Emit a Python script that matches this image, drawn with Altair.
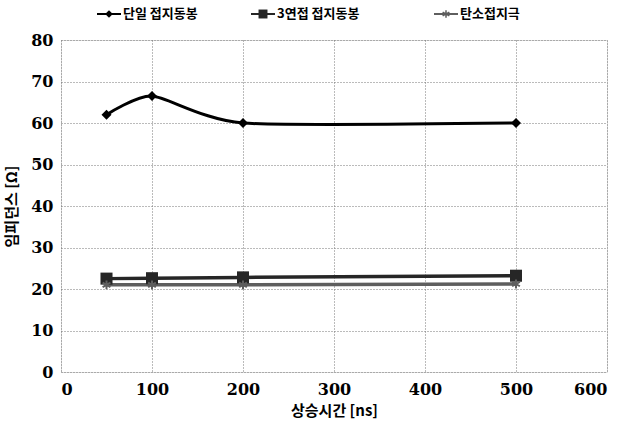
import altair as alt
import pandas as pd

# Rise time of the injected impulse [ns]
rise_time = [50, 100, 200, 500]

# Impedance [Ω] per electrode type
single_rod = [62.0, 66.5, 60.0, 60.0]
triple_rod = [22.5, 22.6, 22.8, 23.2]
carbon_rod = [21.0, 21.0, 21.0, 21.2]

series_names = ["단일 접지동봉", "3연접 접지동봉", "탄소접지극"]
series_values = [single_rod, triple_rod, carbon_rod]

line_colors = ["#000000", "#262626", "#5e5e5e"]
asterisk = "M0,-1L0,1M-0.87,-0.5L0.87,0.5M-0.87,0.5L0.87,-0.5"
marker_shapes = ["diamond", "square", asterisk]

rows = []
for name, vals in zip(series_names, series_values):
    for t, v in zip(rise_time, vals):
        rows.append({"series": name, "rise": t, "imp": v})
df = pd.DataFrame(rows)

W, H = 546, 332
SERIF = "DejaVu Serif"
KR = "Noto Sans CJK KR"

color = alt.Color("series:N", scale=alt.Scale(domain=series_names, range=line_colors), legend=None)
shape = alt.Shape("series:N", scale=alt.Scale(domain=series_names, range=marker_shapes), legend=None)

x_enc = alt.X(
    "rise:Q",
    scale=alt.Scale(domain=[0, 600], nice=False),
    axis=alt.Axis(
        title="상승시간 [ns]", values=[0, 100, 200, 300, 400, 500, 600],
        titlePadding=6, labelPadding=9,
    ),
)
y_enc = alt.Y(
    "imp:Q",
    scale=alt.Scale(domain=[0, 80], nice=False),
    axis=alt.Axis(
        title="임피던스 [Ω]", values=list(range(0, 81, 10)),
        titlePadding=11, labelPadding=8,
    ),
)

base = alt.Chart(df)

single_line = base.transform_filter(alt.datum.series == series_names[0]).mark_line(
    interpolate="cardinal", tension=0.35, strokeWidth=3
).encode(x=x_enc, y=y_enc, color=color)

flat_lines = base.transform_filter(alt.datum.series != series_names[0]).mark_line(
    strokeWidth=3.5
).encode(x="rise:Q", y="imp:Q", color=color, detail="series:N")

filled_pts = base.transform_filter(alt.datum.series != series_names[2]).mark_point(
    filled=True, opacity=1
).encode(
    x="rise:Q", y="imp:Q", color=color, shape=shape,
    size=alt.Size("series:N", scale=alt.Scale(domain=series_names, range=[100, 190, 80]), legend=None),
)

star_pts = base.transform_filter(alt.datum.series == series_names[2]).mark_point(
    filled=False, strokeWidth=2, size=80, opacity=1
).encode(x="rise:Q", y="imp:Q", color=color, shape=shape)


# Legend row above the plot: a short line, the marker and the series name
def legend_item(idx, px):
    item = alt.Chart(pd.DataFrame({"series": [series_names[idx]]}))
    seg = item.mark_rule(strokeWidth=2, color=line_colors[idx]).encode(
        x=alt.value(px - 12), x2=alt.value(px + 12), y=alt.value(-26)
    )
    mk = item.mark_point(
        filled=idx != 2, opacity=1, size=60 if idx != 1 else 80, strokeWidth=1.5,
        color=line_colors[idx], shape=marker_shapes[idx]
    ).encode(x=alt.value(px), y=alt.value(-26))
    txt = item.mark_text(
        align="left", baseline="middle", dx=0, font=KR, fontWeight="bold", fontSize=13, color="#000"
    ).encode(x=alt.value(px + 14), y=alt.value(-26), text="series:N")
    return [seg, mk, txt]


legend_marks = legend_item(0, 48) + legend_item(1, 202) + legend_item(2, 385)

chart = alt.layer(
    single_line, flat_lines, filled_pts, star_pts, *legend_marks
).properties(
    width=W, height=H,
    autosize=alt.AutoSizeParams(type="none"),
    padding={"left": 61, "top": 40, "right": 13, "bottom": 56},
).configure_view(stroke=None).configure(background="white").configure_axis(
    labelFont=SERIF, labelFontWeight="bold", labelFontSize=16, labelColor="#000",
    titleFont=KR, titleFontWeight="bold", titleFontSize=15, titleColor="#000",
    domain=False, ticks=False,
    grid=True, gridDash=[1, 2], gridColor="#777", gridWidth=1,
)

chart.save("out.html", embed_options={"renderer": "svg", "actions": False})
